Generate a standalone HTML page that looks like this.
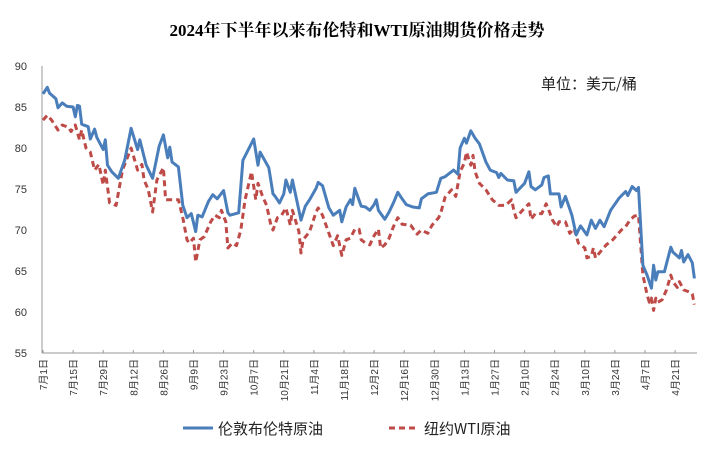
<!DOCTYPE html>
<html><head><meta charset="utf-8"><style>
body{margin:0;background:#fff;}
svg{display:block;font-family:"Liberation Sans","Noto Sans CJK SC",sans-serif;}
</style></head><body>
<svg id="chart" width="714" height="469" viewBox="0 0 714 469">
<text x="357" y="36" text-anchor="middle" font-family="Liberation Serif,'Noto Serif CJK SC',serif" font-weight="bold" font-size="17" fill="#000">2024年下半年以来布伦特和WTI原油期货价格走势</text>
<text x="541" y="89" font-size="15" fill="#222" font-family="'Noto Sans CJK SC',sans-serif">单位：美元/桶</text>
<g id="axes"></g>
<g id="series"></g>
<g>
<line x1="183" y1="428" x2="213" y2="428" stroke="#4a7ebb" stroke-width="3"/>
<text x="218" y="434" font-size="15" fill="#222" font-family="'Noto Sans CJK SC',sans-serif">伦敦布伦特原油</text>
<line x1="389" y1="428" x2="419" y2="428" stroke="#be4b48" stroke-width="3" stroke-dasharray="6,4"/>
<text x="424" y="434" font-size="15" fill="#222" font-family="'Noto Sans CJK SC',sans-serif">纽约WTI原油</text>
</g>
</svg>
<script>
const yTicks=[55,60,65,70,75,80,85,90];
const xTickDays=[0,14,28,42,56,70,84,98,112,126,140,154,168,182,196,210,224,238,252,266,280,294];
const xTickLabels=["7月1日","7月15日","7月29日","8月12日","8月26日","9月9日","9月23日","10月7日","10月21日","11月4日","11月18日","12月2日","12月16日","12月30日","1月13日","1月27日","2月10日","2月24日","3月10日","3月24日","4月7日","4月21日"];
const brentDays=[0,2,3,6,7,9,11,14,15,16,17,18,21,22,24,25,28,29,30,32,35,38,41,44,45,48,51,54,56,58,59,60,63,65,67,69,71,72,74,77,79,81,84,86,87,91,93,98,100,101,105,107,108,110,112,113,115,116,119,120,122,124,127,128,130,133,135,138,139,141,143,144,145,148,150,152,154,155,156,159,161,163,165,167,169,172,175,176,179,183,185,187,191,193,194,196,197,199,201,203,206,208,211,212,213,216,219,220,224,226,227,229,232,233,235,236,240,241,243,246,248,250,253,255,257,259,261,264,268,271,272,274,276,277,279,281,283,284,285,286,289,292,293,296,297,298,300,302,303];
const brentVals=[86.6,87.4,86.7,86.0,84.9,85.5,85.1,85.0,83.8,85.2,85.1,82.9,82.6,81.1,82.3,81.3,79.8,81.0,77.9,77.1,76.3,78.5,82.4,79.8,81.0,77.9,76.3,80.2,81.6,78.8,80.1,78.3,77.7,73.0,71.5,72.0,69.8,71.8,71.6,73.5,74.3,73.8,74.8,72.1,71.8,72.1,78.5,81.1,77.9,79.5,77.6,74.4,74.1,73.3,74.4,76.1,74.6,76.1,72.4,71.2,72.9,73.7,75.1,75.8,75.4,72.7,71.8,72.4,71.0,72.8,73.7,73.1,75.1,72.9,72.8,72.4,73.1,73.7,72.4,71.3,72.2,73.3,74.6,73.8,73.1,72.8,72.7,73.8,74.4,74.6,76.3,76.5,77.3,76.8,80.0,81.2,80.6,82.1,81.2,80.5,78.3,77.3,77.0,76.4,76.9,76.1,76.0,74.6,75.7,77.1,75.3,74.9,75.5,76.4,76.6,74.4,74.4,72.8,74.1,71.8,69.4,70.5,69.4,71.2,70.2,71.2,70.4,72.4,73.9,74.7,74.2,75.3,74.8,75.2,65.7,64.5,62.9,65.7,63.9,64.9,64.9,67.9,67.3,66.6,67.5,66.1,67.0,66.0,64.1];
const wtiDays=[0,2,4,7,9,12,13,15,17,18,20,22,24,26,28,29,31,34,37,41,44,46,47,49,51,53,56,57,59,63,65,67,68,70,71,73,75,78,80,82,83,85,86,88,90,92,94,97,99,100,102,104,106,107,109,111,113,115,116,119,120,121,124,127,128,130,133,135,137,139,141,143,145,147,148,150,152,154,156,157,159,161,163,165,167,171,174,176,179,181,184,185,187,190,192,194,196,197,199,200,201,203,206,209,212,215,218,219,220,223,226,227,229,232,234,235,237,239,240,243,245,247,249,252,253,255,256,257,260,262,265,267,269,271,273,275,277,279,281,282,283,284,285,286,288,290,292,293,295,296,298,300,302,303];
const wtiVals=[83.4,84.0,83.4,82.2,82.8,82.5,82.0,82.8,81.0,82.2,80.0,79.5,77.3,78.0,75.5,77.3,73.3,73.0,77.3,80.0,77.3,78.0,76.1,74.9,72.2,76.1,77.6,73.7,73.7,73.7,71.5,68.8,68.4,69.0,66.1,68.8,69.2,71.0,71.8,71.5,72.4,71.0,67.8,68.4,68.1,70.0,73.7,77.1,73.7,75.7,74.2,73.0,70.6,70.0,71.5,71.8,72.7,70.6,72.4,69.8,67.2,68.8,69.8,72.2,72.7,71.8,69.6,68.1,69.3,66.9,68.8,69.0,70.1,70.1,68.8,68.4,68.2,69.3,70.1,67.8,68.2,69.0,70.4,71.5,70.7,70.6,69.5,70.0,69.6,70.6,71.5,72.1,74.0,74.9,74.1,77.1,78.2,79.5,77.9,79.1,77.1,75.7,74.9,73.7,73.0,73.0,73.7,72.4,71.5,72.4,73.2,71.3,72.0,72.0,73.2,72.6,71.2,70.4,71.0,71.0,69.6,70.2,68.4,67.8,66.6,66.8,67.8,66.6,67.6,68.2,68.8,69.4,70.0,70.4,71.2,71.7,71.8,64.5,62.1,61.2,61.7,60.2,61.7,61.2,61.5,62.7,64.5,63.7,63.0,63.7,62.7,62.5,62.2,60.9];

const NS="http://www.w3.org/2000/svg";
const X0=43,PXD=2.15,Y0=353,Y1=66,VMIN=55,VMAX=90;
function xs(d){return X0+d*PXD;}
function ys(v){return Y0-(v-VMIN)/(VMAX-VMIN)*(Y0-Y1);}
function mk(tag,attrs,parent){const e=document.createElementNS(NS,tag);for(const k in attrs)e.setAttribute(k,attrs[k]);parent.appendChild(e);return e;}
const axes=document.getElementById('axes');
const ya=mk('line',{x1:42,y1:Y1,x2:42,y2:Y0,stroke:'#999','stroke-width':1},axes);


const xa=mk('line',{x1:42,y1:Y0,x2:697,y2:Y0,stroke:'#999','stroke-width':1},axes);


yTicks.forEach(v=>{
  const t=mk('text',{x:27,y:ys(v)+4,'text-anchor':'end','font-size':11,fill:'#333'},axes);
  t.textContent=v;
  
  
});
xTickDays.forEach((d,i)=>{
  const x=xs(d);
  const tm=mk('line',{x1:x,y1:Y0,x2:x,y2:Y0-3,stroke:'#999'},axes);
  
  
  const t=mk('text',{x:0,y:0,'text-anchor':'end','font-size':10,fill:'#333',transform:`translate(${x+4},${Y0+6}) rotate(-90)`},axes);
  t.textContent=xTickLabels[i];
  
  
});
const ser=document.getElementById('series');
function pts(ds,vs){return ds.map((d,i)=>xs(d).toFixed(1)+','+ys(vs[i]).toFixed(1)).join(' ');}
const w=mk('polyline',{points:pts(wtiDays,wtiVals),fill:'none',stroke:'#be4b48','stroke-width':3,'stroke-dasharray':'6,4','stroke-linejoin':'round'},ser);


const b=mk('polyline',{points:pts(brentDays,brentVals),fill:'none',stroke:'#4a7ebb','stroke-width':3,'stroke-linejoin':'round'},ser);


</script>
</body></html>
